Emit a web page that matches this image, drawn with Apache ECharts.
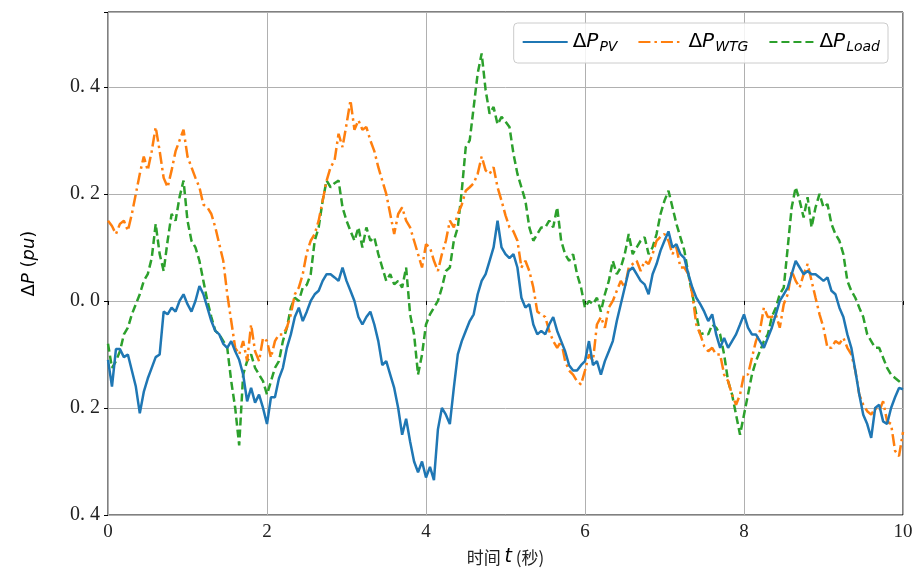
<!DOCTYPE html>
<html>
<head>
<meta charset="utf-8">
<script src="https://cdn.jsdelivr.net/npm/echarts@6/dist/echarts.min.js"></script>
<style>
  html, body { margin: 0; padding: 0; background: #fff; }
  #main { width: 917px; height: 572px; }
</style>
</head>
<body>
<div id="main"></div>
<script>
// power deviations (pu), read every 0.05 s from 0 to 10 s
var pv = [
  -0.11, -0.16, -0.09, -0.09, -0.105, -0.10, -0.13, -0.16, -0.21, -0.17,
  -0.145, -0.125, -0.105, -0.10, -0.02, -0.025, -0.0125, -0.02, 0.0, 0.0125,
  -0.006, -0.02, 0.0, 0.028, 0.0125, -0.0125, -0.0375, -0.056, -0.0625, -0.08,
  -0.0875, -0.075, -0.094, -0.11, -0.1375, -0.1875, -0.1625, -0.19, -0.175, -0.2,
  -0.23, -0.18, -0.18, -0.145, -0.125, -0.0875, -0.0625, -0.03, -0.0125, -0.0375,
  -0.02, 0.0, 0.0125, 0.019, 0.0375, 0.05, 0.05, 0.044, 0.0375, 0.0625,
  0.0375, 0.019, 0.0, -0.03, -0.044, -0.03, -0.02, -0.044, -0.075, -0.12,
  -0.1125, -0.1375, -0.1625, -0.2, -0.25, -0.22, -0.2625, -0.30, -0.32, -0.30,
  -0.33, -0.31, -0.335, -0.24, -0.2, -0.2125, -0.23, -0.1625, -0.1, -0.075,
  -0.056, -0.0375, -0.025, 0.0125, 0.0375, 0.05, 0.075, 0.1, 0.15, 0.1,
  0.0875, 0.08, 0.0875, 0.0625, 0.006, -0.0125, -0.006, -0.044, -0.0625, -0.056,
  -0.0625, -0.044, -0.03, -0.056, -0.075, -0.094, -0.12, -0.13, -0.13, -0.12,
  -0.1125, -0.075, -0.12, -0.1125, -0.1375, -0.1125, -0.094, -0.075, -0.0375, -0.006,
  0.025, 0.056, 0.0625, 0.05, 0.0375, 0.031, 0.0125, 0.05, 0.069, 0.094,
  0.1125, 0.13, 0.1, 0.106, 0.0875, 0.08, 0.05, 0.025, 0.006, -0.006,
  -0.02, -0.0375, -0.025, -0.0625, -0.0875, -0.069, -0.0875, -0.075, -0.0625, -0.044,
  -0.025, -0.05, -0.0625, -0.0625, -0.075, -0.0875, -0.069, -0.05, -0.025, 0.0,
  0.0125, 0.025, 0.05, 0.075, 0.0625, 0.05, 0.056, 0.05, 0.05, 0.044,
  0.0375, 0.044, 0.019, 0.0125, -0.0125, -0.03, -0.0625, -0.0875, -0.13, -0.175,
  -0.2125, -0.23, -0.256, -0.2, -0.194, -0.225, -0.23, -0.2, -0.18, -0.1625,
  -0.165
];
var wtg = [
  0.15, 0.14, 0.125, 0.144, 0.15, 0.131, 0.1625, 0.2, 0.2375, 0.27,
  0.244, 0.28, 0.325, 0.28, 0.23, 0.2125, 0.244, 0.28, 0.30, 0.32,
  0.27, 0.25, 0.23, 0.2125, 0.18, 0.175, 0.1625, 0.1375, 0.106, 0.075,
  0.0125, -0.0375, -0.0875, -0.1, -0.075, -0.1125, -0.044, -0.094, -0.1125, -0.069,
  -0.075, -0.106, -0.075, -0.0625, -0.0625, -0.05, -0.025, 0.0125, 0.025, 0.05,
  0.09, 0.1125, 0.125, 0.15, 0.1875, 0.225, 0.25, 0.2625, 0.3125, 0.2875,
  0.33, 0.375, 0.32, 0.3375, 0.32, 0.325, 0.3, 0.28, 0.25, 0.225,
  0.2, 0.1625, 0.125, 0.1625, 0.175, 0.15, 0.1375, 0.1125, 0.0875, 0.0625,
  0.106, 0.1, 0.075, 0.056, 0.0875, 0.1125, 0.15, 0.1375, 0.1625, 0.18,
  0.206, 0.2125, 0.22, 0.2375, 0.27, 0.244, 0.2375, 0.25, 0.2125, 0.1875,
  0.16, 0.1375, 0.13, 0.1125, 0.0625, 0.075, 0.056, 0.025, -0.02, -0.025,
  -0.03, -0.056, -0.075, -0.0875, -0.075, -0.1125, -0.13, -0.1375, -0.15, -0.156,
  -0.13, -0.1, -0.1125, -0.044, -0.03, -0.05, -0.0125, 0.0, 0.019, 0.0375,
  0.025, 0.0625, 0.069, 0.075, 0.056, 0.075, 0.069, 0.0875, 0.1125, 0.12,
  0.125, 0.1125, 0.0875, 0.1, 0.0625, 0.0625, 0.05, 0.0125, -0.044, -0.0625,
  -0.085, -0.094, -0.0875, -0.1, -0.1, -0.1375, -0.15, -0.175, -0.194, -0.175,
  -0.1375, -0.1375, -0.106, -0.075, -0.056, -0.0125, -0.03, -0.03, -0.025, -0.05,
  -0.006, 0.0125, 0.056, 0.0375, 0.025, 0.05, 0.069, 0.0375, 0.006, -0.025,
  -0.05, -0.0875, -0.0875, -0.075, -0.08, -0.069, -0.0875, -0.1, -0.13, -0.175,
  -0.194, -0.206, -0.2125, -0.2, -0.206, -0.1875, -0.225, -0.23, -0.28, -0.29,
  -0.245
];
var load = [
  -0.08, -0.125, -0.1125, -0.094, -0.0625, -0.05, -0.025, -0.006, 0.0125, 0.0375,
  0.05, 0.08, 0.144, 0.0875, 0.056, 0.1125, 0.1625, 0.15, 0.194, 0.225,
  0.15, 0.1125, 0.1, 0.075, 0.0375, 0.0, -0.03, -0.056, -0.0625, -0.075,
  -0.0875, -0.15, -0.2, -0.27, -0.1375, -0.1125, -0.1, -0.125, -0.1375, -0.15,
  -0.175, -0.15, -0.125, -0.1125, -0.075, -0.05, -0.0125, 0.006, 0.0, 0.025,
  0.03, 0.05, 0.1125, 0.1375, 0.1875, 0.225, 0.2125, 0.22, 0.225, 0.175,
  0.15, 0.131, 0.1125, 0.1375, 0.1, 0.1375, 0.1125, 0.119, 0.0875, 0.0625,
  0.0375, 0.05, 0.031, 0.0375, 0.025, 0.0625, -0.025, -0.0625, -0.1375, -0.1,
  -0.044, -0.025, -0.0125, 0.0, 0.025, 0.056, 0.0625, 0.1125, 0.1375, 0.206,
  0.2875, 0.3, 0.3625, 0.425, 0.4625, 0.394, 0.35, 0.3625, 0.33, 0.344,
  0.335, 0.325, 0.275, 0.2375, 0.2125, 0.1875, 0.1375, 0.1125, 0.125, 0.1375,
  0.1375, 0.15, 0.1375, 0.175, 0.1125, 0.0875, 0.075, 0.0875, 0.05, 0.025,
  -0.0125, 0.0, -0.006, 0.006, -0.02, 0.0125, 0.0375, 0.075, 0.05, 0.0625,
  0.0875, 0.125, 0.0875, 0.1, 0.1125, 0.119, 0.0875, 0.1, 0.125, 0.1625,
  0.1875, 0.206, 0.175, 0.144, 0.119, 0.094, 0.05, 0.0125, -0.025, -0.0625,
  -0.06, -0.0625, -0.044, -0.05, -0.0625, -0.1, -0.15, -0.175, -0.2125, -0.25,
  -0.2125, -0.175, -0.1375, -0.1125, -0.094, -0.075, -0.0625, -0.03, -0.0125, 0.0125,
  0.025, 0.1, 0.175, 0.2125, 0.1875, 0.156, 0.194, 0.1375, 0.175, 0.2,
  0.175, 0.181, 0.144, 0.125, 0.1125, 0.0875, 0.0375, 0.019, 0.006, -0.0125,
  -0.03, -0.0625, -0.075, -0.0875, -0.0875, -0.106, -0.125, -0.1375, -0.144, -0.15,
  -0.156
];
var time = pv.map(function (v, i) { return i / 20; });

var seriesNames = ['PV', 'WTG', 'Load'];
var xTicks = [0, 2, 4, 6, 8, 10];
var yTicks = [-0.4, -0.2, 0.0, 0.2, 0.4];

function pairs(vals) {
  return vals.map(function (v, i) { return [time[i], v]; });
}

var myChart = echarts.init(document.getElementById('main'), null, { renderer: 'canvas' });

var serifFont = '"Liberation Serif", "DejaVu Serif", serif';
var sansFont = '"DejaVu Sans", sans-serif';

var option = {
  backgroundColor: '#fff',
  animation: false,
  grid: {
    left: 108, right: 14, top: 12, bottom: 57,
    outerBoundsMode: 'none',
    show: true, borderColor: '#000', borderWidth: 1, backgroundColor: 'transparent'
  },
  legend: {
    right: 29, top: 23,
    itemWidth: 45, itemHeight: 12, itemGap: 20,
    padding: [9, 8, 9, 8],
    backgroundColor: 'rgba(255,255,255,0.85)',
    borderColor: '#cccccc', borderWidth: 1, borderRadius: 4,
    itemStyle: { opacity: 0 },
    data: seriesNames,
    formatter: function (name) { return '{d|Δ}{p|P}{s|' + name + '}'; },
    textStyle: {
      rich: {
        d: { fontFamily: sansFont, fontSize: 20, color: '#000' },
        p: { fontFamily: sansFont, fontSize: 20, fontStyle: 'italic', color: '#000' },
        s: { fontFamily: sansFont, fontSize: 14, fontStyle: 'italic', color: '#000', padding: [10, 0, 0, 1] }
      }
    }
  },
  xAxis: {
    type: 'value', min: 0, max: 10, interval: 2,
    name: '{a|时间 }{t|t}{a| (秒)}',
    nameLocation: 'middle', nameGap: 33,
    nameTextStyle: {
      rich: {
        a: { fontFamily: '"Noto Sans CJK SC", sans-serif', fontSize: 17, color: '#222' },
        t: { fontFamily: sansFont, fontSize: 19, fontStyle: 'italic', color: '#000' }
      }
    },
    axisLine: { show: false },
    axisTick: { show: true, inside: false, length: 4, lineStyle: { color: '#000', width: 1 } },
    axisLabel: {
      fontFamily: serifFont, fontSize: 19, color: '#222', margin: 8,
      formatter: function (v) { return xTicks.indexOf(v) >= 0 ? String(v) : ''; }
    },
    splitLine: { show: true, lineStyle: { color: '#b0b0b0', width: 1 } }
  },
  yAxis: {
    type: 'value', min: -0.4, max: 0.54, interval: 0.2,
    name: '{d|Δ}{p|P}{d| (}{p|pu}{d|)}',
    nameLocation: 'middle', nameGap: 70, nameRotate: 90,
    nameTextStyle: {
      rich: {
        d: { fontFamily: sansFont, fontSize: 18, color: '#000' },
        p: { fontFamily: sansFont, fontSize: 18, fontStyle: 'italic', color: '#000' }
      }
    },
    axisLine: { show: false },
    axisTick: { show: true, inside: false, length: 4, lineStyle: { color: '#000', width: 1 } },
    axisLabel: {
      fontFamily: serifFont, fontSize: 20, color: '#222', margin: 8,
      formatter: function (v) {
        var r = Math.round(v * 10) / 10;
        if (yTicks.indexOf(r) < 0) return '';
        return Math.abs(r).toFixed(1).replace('.', '. ');
      }
    },
    splitLine: { show: true, lineStyle: { color: '#b0b0b0', width: 1 } }
  },
  series: [
    {
      name: 'PV', type: 'line', data: pairs(pv), showSymbol: false, symbol: 'none',
      color: '#1f77b4', lineStyle: { color: '#1f77b4', width: 2.5, type: 'solid' }, z: 3
    },
    {
      name: 'WTG', type: 'line', data: pairs(wtg), showSymbol: false, symbol: 'none',
      color: '#ff7f0e', lineStyle: { color: '#ff7f0e', width: 2.5, type: [12, 4, 2.5, 4] }, z: 2
    },
    {
      name: 'Load', type: 'line', data: pairs(load), showSymbol: false, symbol: 'none',
      color: '#2ca02c', lineStyle: { color: '#2ca02c', width: 2.5, type: [8, 4] }, z: 1
    }
  ]
};

myChart.setOption(option);
</script>
</body>
</html>
